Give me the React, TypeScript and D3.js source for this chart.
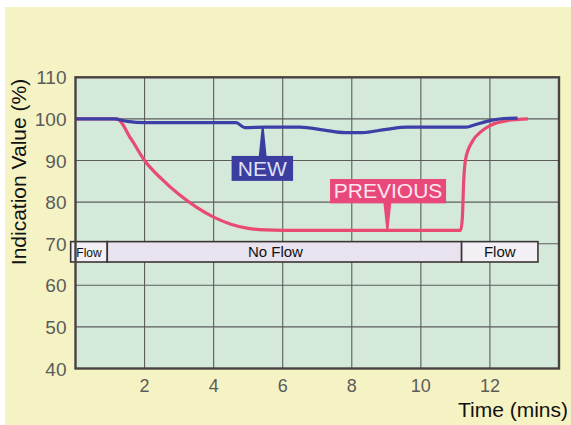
import * as d3 from "d3"

// Time (mins) / indication value (%)
const newTimes = [0, 1.1, 1.5, 2, 4.65, 4.9, 5.5, 6.5, 7.2, 7.8, 8.3, 9, 9.6, 11.3, 11.5, 12, 12.4, 12.8]
const newValues = [100, 100, 99.4, 99.1, 99.1, 97.9, 98, 98, 97.3, 96.7, 96.7, 97.5, 98, 98, 98.4, 99.6, 100.1, 100.2]

const prevTimes = [0, 1.2, 1.6, 2, 2.5, 3, 3.5, 4, 4.5, 5, 5.5, 6, 11.15, 11.2, 11.24, 11.3, 11.5, 11.75, 12, 12.5, 13.1]
const prevValues = [100, 100, 95.3, 90, 85.5, 81.8, 78.8, 76.4, 74.7, 73.7, 73.3, 73.2, 73.2, 76, 85, 90.5, 94.7, 97, 98.4, 99.6, 100]

const xTicks = [2, 4, 6, 8, 10, 12]
const yTicks = [40, 50, 60, 70, 80, 90, 100, 110]

const flowLabels = ["Flow", "No Flow", "Flow"]
const flowStarts = [-0.14, 0.92, 11.18]
const flowEnds = [0.92, 11.18, 13.39]

const WIDTH = 571
const HEIGHT = 425
const FONT = "'Liberation Sans', Arial, sans-serif"

export default function App() {
  const x = d3.scaleLinear().domain([0, 14]).range([75.5, 559])
  const y = d3.scaleLinear().domain([40, 110]).range([368.5, 77.3])

  const line = d3
    .line<[number, number]>()
    .x((d) => x(d[0]))
    .y((d) => y(d[1]))
    .curve(d3.curveMonotoneX)

  const newPts = newTimes.map((t, i) => [t, newValues[i]] as [number, number])
  const prevPts = prevTimes.map((t, i) => [t, prevValues[i]] as [number, number])

  const barTop = y(70.5)
  const barBottom = y(65.6)

  // callout: box in data coords, pointer tip on the line
  const callout = (
    label: string,
    t0: number,
    t1: number,
    vTop: number,
    vBottom: number,
    tipT: number,
    tipV: number,
    fill: string,
    textFill: string,
    fromTop: boolean
  ) => {
    const bx = x(t0)
    const bw = x(t1) - x(t0)
    const by = y(vTop)
    const bh = y(vBottom) - y(vTop)
    const px = x(tipT)
    const py = y(tipV)
    const baseY = fromTop ? by + 1 : by + bh - 1
    const pts = [
      [px - 1, py],
      [px + 1, py],
      [px + 4, baseY],
      [px - 4, baseY],
    ]
    return (
      <g>
        <path d={"M" + pts.map((p) => p.join(",")).join("L") + "Z"} fill={fill} />
        <rect x={bx} y={by} width={bw} height={bh} fill={fill} />
        <text
          x={bx + bw / 2}
          y={by + bh - 5}
          textAnchor="middle"
          fontSize={21}
          fontFamily={FONT}
          fill={textFill}
        >
          {label}
        </text>
      </g>
    )
  }

  return (
    <div style={{ position: "absolute", left: 0, top: 0 }}>
      <svg width={WIDTH} height={HEIGHT} style={{ display: "block" }}>
        <rect width={WIDTH} height={HEIGHT} fill="#ffffff" />
        <rect x={5} y={7} width={WIDTH - 5} height={HEIGHT - 7} fill="#f5f3c3" />

        {/* plot area */}
        <rect x={x(0)} y={y(110)} width={x(14) - x(0)} height={y(40) - y(110)} fill="#d4e9da" />

        {xTicks.map((t) => (
          <line key={"gx" + t} x1={x(t)} x2={x(t)} y1={y(110)} y2={y(40)} stroke="#5c5c5c" strokeWidth={1.1} />
        ))}
        {yTicks.slice(1, -1).map((v) => (
          <line key={"gy" + v} x1={x(0)} x2={x(14)} y1={y(v)} y2={y(v)} stroke="#5c5c5c" strokeWidth={1.1} />
        ))}

        {/* flow state bar */}
        {flowLabels.map((lab, i) => {
          const x0 = x(flowStarts[i])
          const x1 = x(flowEnds[i])
          return (
            <g key={"f" + i}>
              <rect
                x={x0}
                y={barTop}
                width={x1 - x0}
                height={barBottom - barTop}
                fill={i === 1 ? "#e9e2ef" : "#f2eff5"}
                stroke="#3a3434"
                strokeWidth={1.6}
              />
              <text
                x={i === 1 ? x0 + (x1 - x0) / 2 - 9 : x0 + (x1 - x0) / 2}
                y={barBottom - 5}
                textAnchor="middle"
                fontSize={i === 0 ? 12 : 15}
                fontFamily={FONT}
                fill="#111"
              >
                {lab}
              </text>
            </g>
          )
        })}

        {/* series */}
        <path d={line(prevPts) || ""} fill="none" stroke="#e84a72" strokeWidth={3.2} strokeLinejoin="round" />
        <path d={line(newPts) || ""} fill="none" stroke="#3b3fa6" strokeWidth={3.2} strokeLinejoin="round" />

        {/* plot frame */}
        <rect
          x={x(0)}
          y={y(110)}
          width={x(14) - x(0)}
          height={y(40) - y(110)}
          fill="none"
          stroke="#4a4242"
          strokeWidth={2.4}
        />

        {callout("NEW", 4.52, 6.3, 91.1, 85.1, 5.42, 98, "#3b3d9f", "#dfe0f4", true)}
        {callout("PREVIOUS", 7.37, 10.73, 85.55, 79.7, 9.03, 73.2, "#e9487a", "#fbe6ee", false)}

        {/* y ticks */}
        {yTicks.map((v) => (
          <text
            key={"yt" + v}
            x={x(0) - 9}
            y={y(v) + 7}
            textAnchor="end"
            fontSize={19}
            fontFamily={FONT}
            fill="#5b5b5b"
          >
            {v}
          </text>
        ))}

        {/* x ticks */}
        {xTicks.map((t) => (
          <text
            key={"xt" + t}
            x={x(t)}
            y={392}
            textAnchor="middle"
            fontSize={18}
            fontFamily={FONT}
            fill="#5b5b5b"
          >
            {t}
          </text>
        ))}

        <text x={568} y={417} textAnchor="end" fontSize={21} fontFamily={FONT} fill="#111">
          Time (mins)
        </text>
        <text
          transform="translate(26,172) rotate(-90)"
          textAnchor="middle"
          fontSize={21}
          fontFamily={FONT}
          fill="#111"
        >
          Indication Value (%)
        </text>
      </svg>
    </div>
  )
}
